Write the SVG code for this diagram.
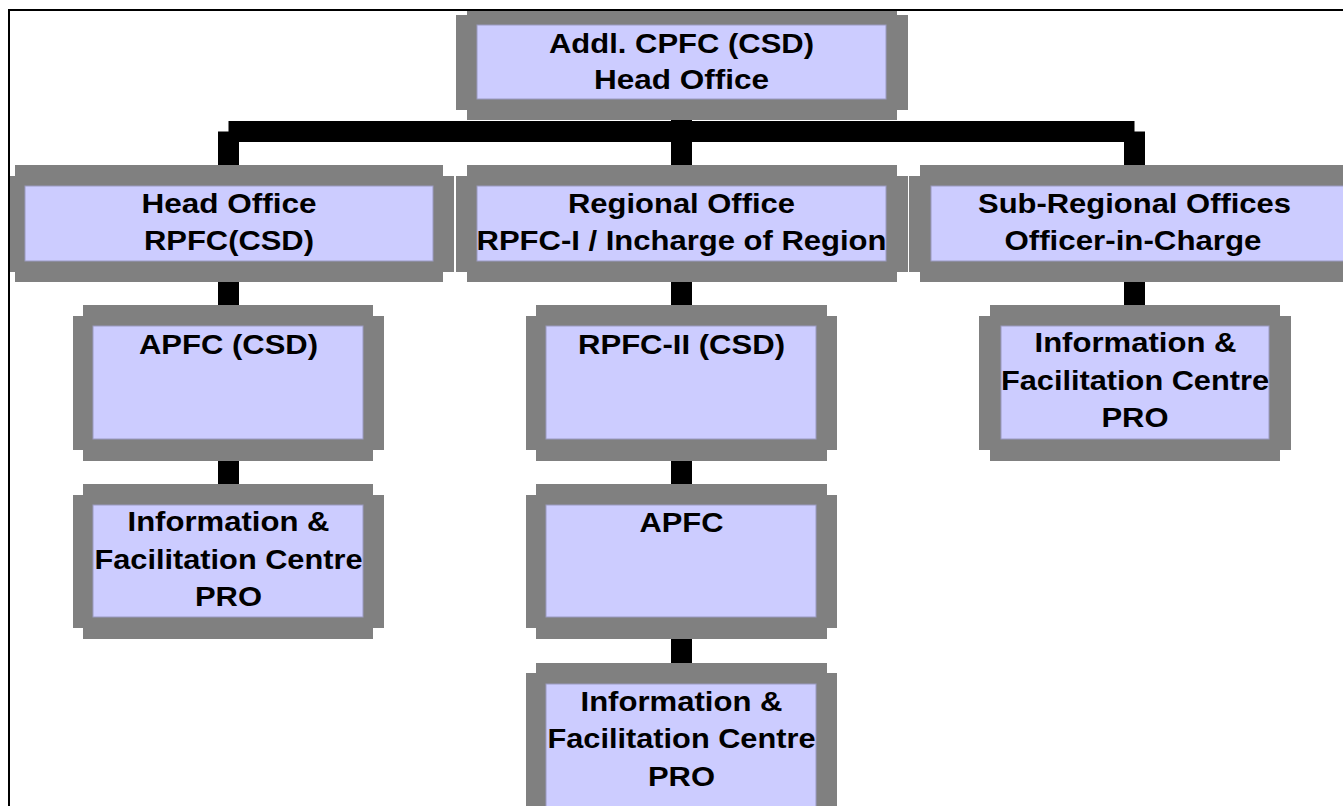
<svg xmlns="http://www.w3.org/2000/svg" width="1343" height="806" viewBox="0 0 1343 806">
<style>
.g{fill:#808080}
.in{fill:#CCCCFF;stroke:#9a9ac0;stroke-width:1}
.t{font-family:"Liberation Sans",Arial,sans-serif;font-weight:bold;font-size:27.5px;fill:#000;text-anchor:middle}
.c{stroke:#000;stroke-width:21;fill:none;stroke-linecap:butt;stroke-linejoin:miter}
</style>
<rect width="1343" height="806" fill="#fff"/>
<g id="connectors">
<path class="c" d="M228.5 131.5H1134.5"/>
<path class="c" d="M228.5 131.5V165M681.5 120V165M1134.5 131.5V165"/>
<path class="c" d="M228.5 282V305M681.5 282V305M1134.5 282V305"/>
<path class="c" d="M228.5 461V484M681.5 461V484"/>
<path class="c" d="M681.5 639V663"/>
</g>
<g id="top">
<rect class="g" x="467" y="11" width="430" height="109"/>
<rect class="g" x="456" y="15" width="452" height="95"/>
<rect class="in" x="477" y="25" width="409" height="74"/>
<text class="t" x="681.5" y="53" textLength="265" lengthAdjust="spacingAndGlyphs">Addl. CPFC (CSD)</text>
<text class="t" x="681.5" y="89" textLength="175" lengthAdjust="spacingAndGlyphs">Head Office</text>
</g>
<g id="ho">
<rect class="g" x="15" y="165" width="428" height="117"/>
<rect class="g" x="10" y="176" width="444" height="96"/>
<rect class="in" x="25" y="186" width="408" height="75"/>
<text class="t" x="229" y="213" textLength="175" lengthAdjust="spacingAndGlyphs">Head Office</text>
<text class="t" x="229" y="249.5" textLength="170" lengthAdjust="spacingAndGlyphs">RPFC(CSD)</text>
</g>
<g id="ro">
<rect class="g" x="467" y="165" width="430" height="117"/>
<rect class="g" x="456" y="176" width="452" height="96"/>
<rect class="in" x="477" y="186" width="409" height="75"/>
<text class="t" x="681.5" y="213" textLength="227" lengthAdjust="spacingAndGlyphs">Regional Office</text>
<text class="t" x="681.5" y="249.5" textLength="410" lengthAdjust="spacingAndGlyphs">RPFC-I / Incharge of Region</text>
</g>
<g id="sro">
<rect class="g" x="920" y="165" width="430" height="117"/>
<rect class="g" x="909" y="176" width="452" height="96"/>
<rect class="in" x="931" y="186" width="420" height="75"/>
<text class="t" x="1134.5" y="213" textLength="313" lengthAdjust="spacingAndGlyphs">Sub-Regional Offices</text>
<text class="t" x="1133" y="249.5" textLength="257" lengthAdjust="spacingAndGlyphs">Officer-in-Charge</text>
</g>
<g id="apfc-csd">
<rect class="g" x="83" y="305" width="290" height="156"/>
<rect class="g" x="73" y="316" width="311" height="134"/>
<rect class="in" x="93" y="326" width="270" height="113"/>
<text class="t" x="228.5" y="353.5" textLength="179" lengthAdjust="spacingAndGlyphs">APFC (CSD)</text>
</g>
<g id="rpfc2">
<rect class="g" x="536" y="305" width="291" height="156"/>
<rect class="g" x="526" y="316" width="311" height="134"/>
<rect class="in" x="546" y="326" width="270" height="113"/>
<text class="t" x="681.5" y="353.5" textLength="207" lengthAdjust="spacingAndGlyphs">RPFC-II (CSD)</text>
</g>
<g id="sro-ifc">
<rect class="g" x="990" y="305" width="290" height="156"/>
<rect class="g" x="979" y="316" width="312" height="134"/>
<rect class="in" x="1001" y="326" width="268" height="113"/>
<text class="t" x="1135.5" y="352" textLength="202" lengthAdjust="spacingAndGlyphs">Information &amp;</text>
<text class="t" x="1135" y="389.5" textLength="268" lengthAdjust="spacingAndGlyphs">Facilitation Centre</text>
<text class="t" x="1135" y="427" textLength="67" lengthAdjust="spacingAndGlyphs">PRO</text>
</g>
<g id="ho-ifc">
<rect class="g" x="83" y="484" width="290" height="155"/>
<rect class="g" x="73" y="495" width="311" height="133"/>
<rect class="in" x="93" y="505" width="270" height="112"/>
<text class="t" x="228.5" y="531" textLength="202" lengthAdjust="spacingAndGlyphs">Information &amp;</text>
<text class="t" x="228.5" y="568.5" textLength="268" lengthAdjust="spacingAndGlyphs">Facilitation Centre</text>
<text class="t" x="228.5" y="606" textLength="67" lengthAdjust="spacingAndGlyphs">PRO</text>
</g>
<g id="apfc">
<rect class="g" x="536" y="484" width="291" height="155"/>
<rect class="g" x="526" y="495" width="311" height="133"/>
<rect class="in" x="546" y="505" width="270" height="112"/>
<text class="t" x="681.5" y="532" textLength="84" lengthAdjust="spacingAndGlyphs">APFC</text>
</g>
<g id="ro-ifc">
<rect class="g" x="536" y="663" width="291" height="160"/>
<rect class="g" x="526" y="673" width="311" height="140"/>
<rect class="in" x="546" y="684" width="270" height="130"/>
<text class="t" x="681.5" y="710.5" textLength="202" lengthAdjust="spacingAndGlyphs">Information &amp;</text>
<text class="t" x="681.5" y="748" textLength="268" lengthAdjust="spacingAndGlyphs">Facilitation Centre</text>
<text class="t" x="681.5" y="785.5" textLength="67" lengthAdjust="spacingAndGlyphs">PRO</text>
</g>
<g id="frame">
<rect x="8" y="9" width="1335" height="2" fill="#000"/>
<rect x="8" y="9" width="2" height="797" fill="#000"/>
</g>
</svg>
